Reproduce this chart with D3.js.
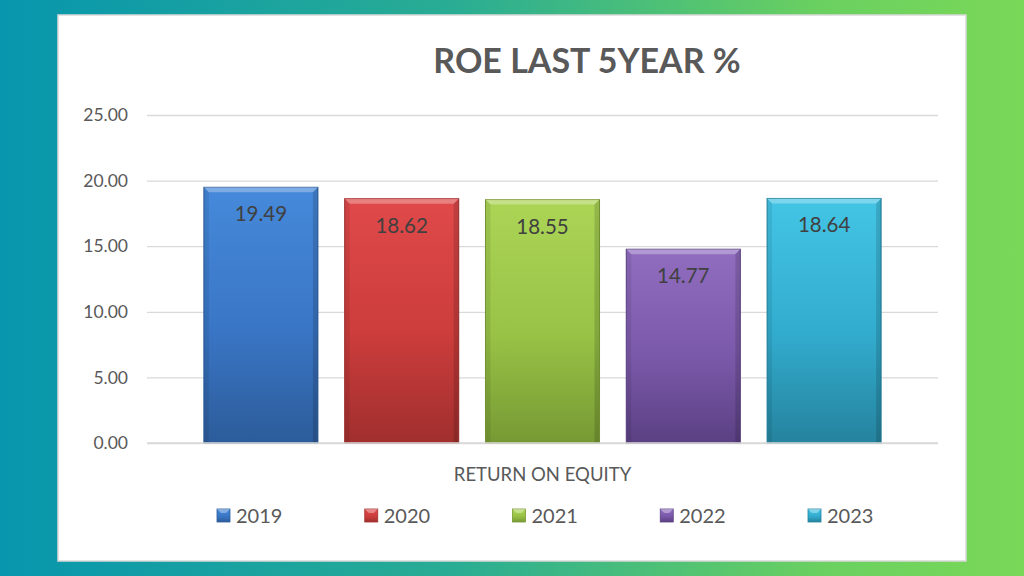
<!DOCTYPE html>
<html>
<head>
<meta charset="utf-8">
<script src="https://cdn.jsdelivr.net/npm/d3@7"></script>
<style>
  body { margin: 0; overflow: hidden; }
  text { font-family: Lato, "Open Sans", sans-serif; }
</style>
</head>
<body>
<div id="chart"></div>
<script>
// values
const years = ["2019", "2020", "2021", "2022", "2023"];
const roe = [19.49, 18.62, 18.55, 14.77, 18.64];
const yTicks = [0, 5, 10, 15, 20, 25];
const barColors = [
    {light: "#4689da", mid: "#3a76c6", dark: "#2c5c9a"},
    {light: "#e0494a", mid: "#cc3d3c", dark: "#a02f2e"},
    {light: "#acd556", mid: "#98c346", dark: "#779934"},
    {light: "#916dc0", mid: "#7b59aa", dark: "#5b4083"},
    {light: "#44c5e6", mid: "#32acce", dark: "#25839e"},
];

const W = 1024, H = 576;
const plot = {left: 147, right: 938, top: 115, bottom: 443};

const svg = d3.select("#chart")
    .append("svg")
    .attr("width", W)
    .attr("height", H);

const defs = svg.append("defs");

// background gradient
const bg = defs.append("linearGradient")
    .attr("id", "bg")
    .attr("x1", "0").attr("y1", "0")
    .attr("x2", "1").attr("y2", "0");
bg.append("stop").attr("offset", "0").attr("stop-color", "#0796ae");
bg.append("stop").attr("offset", "0.45").attr("stop-color", "#2aad93");
bg.append("stop").attr("offset", "0.8").attr("stop-color", "#6ad060");
bg.append("stop").attr("offset", "1").attr("stop-color", "#7ad858");

barColors.forEach((c, i) => {
    const g = defs.append("linearGradient")
        .attr("id", "bar" + i)
        .attr("x1", "0").attr("y1", "0")
        .attr("x2", "0").attr("y2", "1");
    g.append("stop").attr("offset", "0").attr("stop-color", c.light);
    g.append("stop").attr("offset", "0.55").attr("stop-color", c.mid);
    g.append("stop").attr("offset", "1").attr("stop-color", c.dark);
});

svg.append("rect")
    .attr("width", W).attr("height", H)
    .attr("fill", "url(#bg)");

// white chart panel
svg.append("rect")
    .attr("x", 58).attr("y", 15)
    .attr("width", 908).attr("height", 546)
    .attr("fill", "#ffffff")
    .attr("stroke", "#d9d9d9")
    .attr("stroke-width", 1.5);

svg.append("text")
    .attr("x", 587)
    .attr("y", 73)
    .attr("text-anchor", "middle")
    .attr("font-size", 34)
    .attr("font-weight", "bold")
    .attr("fill", "#595959")
    .text("ROE LAST 5YEAR %");

const y = d3.scaleLinear()
    .domain([0, 25])
    .range([plot.bottom, plot.top]);

const x = d3.scaleBand()
    .domain(years)
    .range([190.5, 894.5])
    .paddingInner(0.19)
    .paddingOuter(0.095);

// gridlines + y labels
const yAxis = svg.append("g")
    .attr("transform", `translate(${plot.left},0)`)
    .call(d3.axisLeft(y)
        .tickValues(yTicks)
        .tickSize(-(plot.right - plot.left))
        .tickPadding(19)
        .tickFormat(d3.format(".2f")));

yAxis.select(".domain").remove();
yAxis.selectAll(".tick line")
    .attr("stroke", "#d9d9d9")
    .attr("stroke-width", 1.3);
yAxis.selectAll(".tick text")
    .attr("font-size", 17.5)
    .attr("fill", "#595959")
    .style("font-family", "Lato, sans-serif");

// bars
const bars = svg.append("g")
    .selectAll("g")
    .data(years)
    .enter()
    .append("g");

bars.append("rect")
    .attr("x", d => x(d))
    .attr("y", (d, i) => y(roe[i]))
    .attr("width", x.bandwidth())
    .attr("height", (d, i) => y(0) - y(roe[i]))
    .attr("fill", (d, i) => `url(#bar${i})`)
    .attr("stroke", (d, i) => barColors[i].dark)
    .attr("stroke-width", 1);

// bevel: light top, darker sides
const bev = 5;
bars.append("path")
    .attr("d", (d, i) => {
        const x0 = x(d), x1 = x(d) + x.bandwidth(), t = y(roe[i]);
        return `M${x0},${t}L${x1},${t}L${x1 - bev},${t + bev}L${x0 + bev},${t + bev}Z`;
    })
    .attr("fill", "#ffffff")
    .attr("opacity", 0.3);

bars.append("path")
    .attr("d", (d, i) => {
        const x0 = x(d), t = y(roe[i]), b = y(0);
        return `M${x0},${t}L${x0 + bev},${t + bev}L${x0 + bev},${b}L${x0},${b}Z`;
    })
    .attr("fill", "#000000")
    .attr("opacity", 0.08);

bars.append("path")
    .attr("d", (d, i) => {
        const x1 = x(d) + x.bandwidth(), t = y(roe[i]), b = y(0);
        return `M${x1},${t}L${x1 - bev},${t + bev}L${x1 - bev},${b}L${x1},${b}Z`;
    })
    .attr("fill", "#000000")
    .attr("opacity", 0.14);

bars.append("text")
    .attr("x", d => x(d) + x.bandwidth() / 2)
    .attr("y", (d, i) => y(roe[i]) + 34)
    .attr("text-anchor", "middle")
    .attr("font-size", 20.5)
    .attr("fill", "#404040")
    .text((d, i) => roe[i].toFixed(2));

// baseline
svg.append("line")
    .attr("x1", plot.left).attr("x2", plot.right)
    .attr("y1", y(0)).attr("y2", y(0))
    .attr("stroke", "#d9d9d9")
    .attr("stroke-width", 1.5);

// category label
svg.append("text")
    .attr("x", (plot.left + plot.right) / 2)
    .attr("y", 481)
    .attr("text-anchor", "middle")
    .attr("font-size", 18.5)
    .attr("fill", "#595959")
    .text("RETURN ON EQUITY");

// legend
const legendX = d3.scalePoint()
    .domain(years)
    .range([217, 808]);

const legend = svg.append("g")
    .selectAll("g")
    .data(years)
    .enter()
    .append("g")
    .attr("transform", d => `translate(${legendX(d)},509)`);

legend.append("rect")
    .attr("width", 13).attr("height", 13)
    .attr("fill", (d, i) => `url(#bar${i})`)
    .attr("stroke", (d, i) => barColors[i].dark)
    .attr("stroke-width", 0.8);

legend.append("path")
    .attr("d", "M0,0L13,0L9,4L4,4Z")
    .attr("fill", "#ffffff")
    .attr("opacity", 0.35);

legend.append("text")
    .attr("x", 19)
    .attr("y", 14)
    .attr("font-size", 20)
    .attr("fill", "#595959")
    .text(d => d);
</script>
</body>
</html>
